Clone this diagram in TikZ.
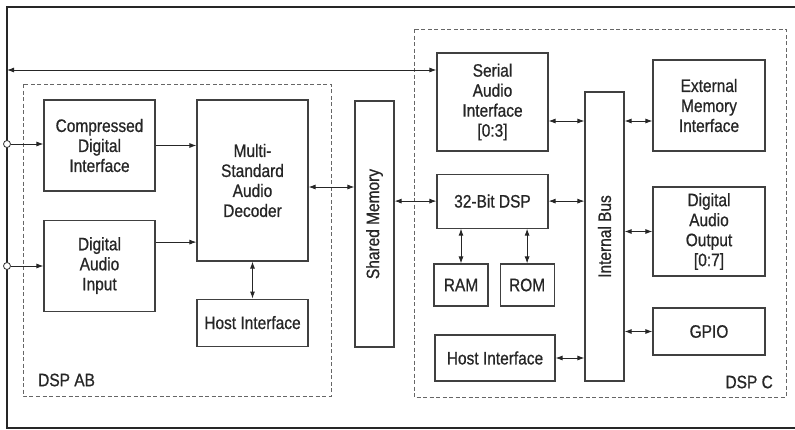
\documentclass[tikz,border=0pt]{standalone}
\usepackage{fontspec}
\setmainfont{Liberation Sans}[FakeStretch=0.86, FakeBold=0.8]
\usetikzlibrary{arrows.meta, positioning, calc}

\begin{document}
\begin{tikzpicture}[
  x=1pt, y=-1pt,
  font=\fontsize{18}{20}\selectfont,
  text=black!85,
  block/.style={rectangle, minimum width=111pt, text centered, draw=black!75, line width=1.1pt, align=center, inner sep=2pt},
  vblock/.style={rectangle, minimum width=39pt, draw=black!75, line width=1.1pt, inner sep=2pt},
  group/.style={draw=black!60, line width=0.8pt, dash pattern=on 4pt off 2.5pt},
  tag/.style={inner sep=0pt},
  port/.style={circle, draw=black!80, fill=white, line width=0.8pt, inner sep=0pt, minimum size=7pt},
  arrow/.style={line width=0.9pt, draw=black!85, -{Latex[length=7pt, width=5pt]}},
  biarrow/.style={line width=0.9pt, draw=black!85, {Latex[length=7pt, width=5pt]}-{Latex[length=7pt, width=5pt]}}
]
\useasboundingbox (0,0) rectangle (795,429);
\draw [line width=1.5pt, black!85] (795,7) -- (7,7) -- (7,428) -- (795,428);
\draw [group] (23,84) rectangle (331,396);
\draw [group] (414,29) rectangle (786,397);
\node (dspab) [tag, anchor=west] at (38,380) {DSP AB};
\node (dspc) [tag, anchor=east] at (773,382) {DSP C};
\node (cdi) [block, minimum height=91pt] at (99.5,145.5) {Compressed\\Digital\\Interface};
\node (dai) [block, minimum height=91pt, below=28pt of cdi] {Digital\\Audio\\Input};
\node (decoder) [block, minimum height=161pt] at (252.5,180.5) {Multi-\\Standard\\Audio\\Decoder};
\node (hostab) [block, minimum height=47pt, below=37pt of decoder] {Host Interface};
\node (shmem) [vblock, minimum height=246pt] at (374.5,224) {\rotatebox{90}{Shared Memory}};
\node (sai) [block, minimum height=98pt] at (492.5,102) {Serial\\Audio\\Interface\\{[0:3]}};
\node (dsp32) [block, minimum height=54pt, below=22pt of sai] {32-Bit DSP};
\node (ram) [block, minimum width=54pt, minimum height=42pt] at (461,285) {RAM};
\node (rom) [block, minimum width=54pt, minimum height=42pt, right=11pt of ram] {ROM};
\node (hostc) [block, minimum width=120pt, minimum height=46pt] at (495,358) {Host Interface};
\node (ibus) [vblock, minimum height=289pt] at (604.5,236.5) {\rotatebox{90}{Internal Bus}};
\node (emi) [block, minimum width=112pt, minimum height=91pt] at (709,105.5) {External\\Memory\\Interface};
\node (dao) [block, minimum width=112pt, minimum height=89pt] at (709,231.5) {Digital\\Audio\\Output\\{[0:7]}};
\node (gpio) [block, minimum width=112pt, minimum height=47pt] at (709,331.5) {GPIO};
\node (in1) [port] at (7,144) {};
\node (in2) [port] at (7,266) {};
\coordinate (ext) at (7,70);
\coordinate (daiout) at ($(dai.east)+(0,-23.5)$);
\coordinate (decout) at ($(decoder.east)+(0,6.5)$);
\coordinate (saiout) at ($(sai.east)+(0,19)$);
\draw [biarrow] (ext) -- (ext -| sai.west);
\draw [arrow] (in1) -- (in1 -| cdi.west);
\draw [arrow] (in2) -- (in2 -| dai.west);
\draw [arrow] (cdi) -- (cdi -| decoder.west);
\draw [arrow] (daiout) -- (daiout -| decoder.west);
\draw [biarrow] (decout) -- (decout -| shmem.west);
\draw [biarrow] (decoder) -- (hostab);
\draw [biarrow] (dsp32 -| shmem.east) -- (dsp32.west);
\draw [biarrow] (saiout) -- (saiout -| ibus.west);
\draw [biarrow] (saiout -| ibus.east) -- (saiout -| emi.west);
\draw [biarrow] (dsp32) -- (dsp32 -| ibus.west);
\draw [biarrow] (dao -| ibus.east) -- (dao.west);
\draw [biarrow] (gpio -| ibus.east) -- (gpio.west);
\draw [biarrow] (hostc) -- (hostc -| ibus.west);
\draw [biarrow] (ram) -- (ram |- dsp32.south);
\draw [biarrow] (rom) -- (rom |- dsp32.south);
\end{tikzpicture}
\end{document}
